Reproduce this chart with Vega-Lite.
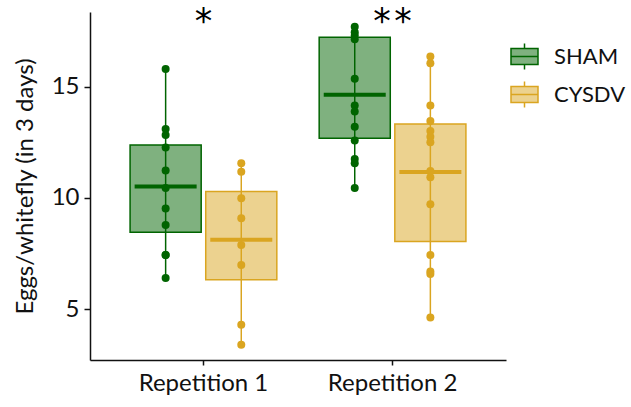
{
  "$schema": "https://vega.github.io/schema/vega-lite/v6.json",
  "width": 416,
  "height": 348,
  "autosize": {"type": "none"},
  "padding": {"left": 90, "top": 12, "right": 125, "bottom": 47},
  "background": "white",
  "config": {
    "view": {"stroke": null},
    "font": "Lato",
    "axis": {"grid": false, "domainColor": "#111", "domainWidth": 1.5, "tickColor": "#111", "tickWidth": 1.5, "labelColor": "#111", "labelFont": "Lato", "titleFont": "Lato", "titleFontWeight": "normal", "titleColor": "#111"}
  },
  "datasets": {
    "pts": [
      {"rep": "Repetition 1", "group": "SHAM", "eggs": 15.79},
      {"rep": "Repetition 1", "group": "SHAM", "eggs": 13.09},
      {"rep": "Repetition 1", "group": "SHAM", "eggs": 12.83},
      {"rep": "Repetition 1", "group": "SHAM", "eggs": 12.26},
      {"rep": "Repetition 1", "group": "SHAM", "eggs": 11.23},
      {"rep": "Repetition 1", "group": "SHAM", "eggs": 10.44},
      {"rep": "Repetition 1", "group": "SHAM", "eggs": 9.52},
      {"rep": "Repetition 1", "group": "SHAM", "eggs": 8.78},
      {"rep": "Repetition 1", "group": "SHAM", "eggs": 7.44},
      {"rep": "Repetition 1", "group": "SHAM", "eggs": 7.44},
      {"rep": "Repetition 1", "group": "SHAM", "eggs": 6.40},
      {"rep": "Repetition 1", "group": "CYSDV", "eggs": 11.56},
      {"rep": "Repetition 1", "group": "CYSDV", "eggs": 11.18},
      {"rep": "Repetition 1", "group": "CYSDV", "eggs": 9.99},
      {"rep": "Repetition 1", "group": "CYSDV", "eggs": 9.09},
      {"rep": "Repetition 1", "group": "CYSDV", "eggs": 7.89},
      {"rep": "Repetition 1", "group": "CYSDV", "eggs": 6.99},
      {"rep": "Repetition 1", "group": "CYSDV", "eggs": 4.30},
      {"rep": "Repetition 1", "group": "CYSDV", "eggs": 3.40},
      {"rep": "Repetition 2", "group": "SHAM", "eggs": 17.69},
      {"rep": "Repetition 2", "group": "SHAM", "eggs": 17.44},
      {"rep": "Repetition 2", "group": "SHAM", "eggs": 17.29},
      {"rep": "Repetition 2", "group": "SHAM", "eggs": 17.13},
      {"rep": "Repetition 2", "group": "SHAM", "eggs": 15.35},
      {"rep": "Repetition 2", "group": "SHAM", "eggs": 14.15},
      {"rep": "Repetition 2", "group": "SHAM", "eggs": 13.88},
      {"rep": "Repetition 2", "group": "SHAM", "eggs": 13.20},
      {"rep": "Repetition 2", "group": "SHAM", "eggs": 12.58},
      {"rep": "Repetition 2", "group": "SHAM", "eggs": 11.75},
      {"rep": "Repetition 2", "group": "SHAM", "eggs": 11.56},
      {"rep": "Repetition 2", "group": "SHAM", "eggs": 10.44},
      {"rep": "Repetition 2", "group": "CYSDV", "eggs": 16.35},
      {"rep": "Repetition 2", "group": "CYSDV", "eggs": 16.05},
      {"rep": "Repetition 2", "group": "CYSDV", "eggs": 14.15},
      {"rep": "Repetition 2", "group": "CYSDV", "eggs": 13.46},
      {"rep": "Repetition 2", "group": "CYSDV", "eggs": 13.01},
      {"rep": "Repetition 2", "group": "CYSDV", "eggs": 12.75},
      {"rep": "Repetition 2", "group": "CYSDV", "eggs": 12.50},
      {"rep": "Repetition 2", "group": "CYSDV", "eggs": 11.21},
      {"rep": "Repetition 2", "group": "CYSDV", "eggs": 10.93},
      {"rep": "Repetition 2", "group": "CYSDV", "eggs": 9.72},
      {"rep": "Repetition 2", "group": "CYSDV", "eggs": 7.44},
      {"rep": "Repetition 2", "group": "CYSDV", "eggs": 6.69},
      {"rep": "Repetition 2", "group": "CYSDV", "eggs": 6.58},
      {"rep": "Repetition 2", "group": "CYSDV", "eggs": 4.63}
    ],
    "stats": [
      {"rep": "Repetition 1", "group": "SHAM", "lo": 6.40, "q1": 8.46, "med": 10.51, "q3": 12.38, "hi": 15.79},
      {"rep": "Repetition 1", "group": "CYSDV", "lo": 3.45, "q1": 6.32, "med": 8.12, "q3": 10.29, "hi": 11.56},
      {"rep": "Repetition 2", "group": "SHAM", "lo": 10.44, "q1": 12.68, "med": 14.63, "q3": 17.22, "hi": 17.69},
      {"rep": "Repetition 2", "group": "CYSDV", "lo": 4.67, "q1": 8.04, "med": 11.16, "q3": 13.32, "hi": 16.35}
    ],
    "annot": [
      {"rep": "Repetition 1", "label": "*", "y": 17.4},
      {"rep": "Repetition 2", "label": "*\u200a*", "y": 17.4}
    ]
  },
  "encoding": {
    "x": {"field": "rep", "type": "nominal", "scale": {"paddingOuter": 0.1, "paddingInner": 0}, "axis": {"title": null, "labelAngle": 0, "labelFontSize": 24, "tickSize": 5, "labelPadding": 6}}
  },
  "layer": [
    {
      "data": {"name": "stats"},
      "mark": {"type": "rule", "strokeWidth": 1.5},
      "encoding": {
        "xOffset": {"field": "group", "type": "nominal", "sort": ["SHAM", "CYSDV"], "scale": {"paddingInner": 0.06, "paddingOuter": 0.28}},
        "y": {"field": "lo", "type": "quantitative", "scale": {"domain": [2.72, 18.35], "nice": false, "zero": false}, "axis": {"values": [5, 10, 15], "title": "Eggs/whitefly (in 3 days)", "titleFontSize": 24, "labelFontSize": 24, "tickSize": 6, "labelPadding": 5, "titlePadding": 14}},
        "y2": {"field": "hi"},
        "color": {"field": "group", "type": "nominal", "scale": {"domain": ["SHAM", "CYSDV"], "range": ["#006400", "#DAA520"]}, "legend": {
          "title": null, "orient": "none", "legendX": 420, "legendY": 30,
          "symbolType": "M-1,-0.59H1V0.59H-1ZM0,-0.96V-0.59M0,0.59V0.96M-1,0H1",
          "symbolSize": 729, "symbolStrokeWidth": 1.5, "rowPadding": 5,
          "labelFontSize": 22, "labelFont": "Lato", "labelColor": "#111", "labelOffset": 15,
          "encode": {"symbols": {"update": {"fillOpacity": {"value": 0.5}, "stroke": {"scale": "color", "field": "value"}, "strokeWidth": {"value": 1.5}}}}
        }}
      }
    },
    {
      "data": {"name": "stats"},
      "mark": {"type": "bar", "fillOpacity": 0.5, "strokeWidth": 1.5},
      "encoding": {
        "xOffset": {"field": "group", "type": "nominal", "sort": ["SHAM", "CYSDV"]},
        "y": {"field": "q1", "type": "quantitative"},
        "y2": {"field": "q3"},
        "color": {"field": "group", "type": "nominal"},
        "stroke": {"field": "group", "type": "nominal", "scale": {"domain": ["SHAM", "CYSDV"], "range": ["#006400", "#DAA520"]}, "legend": null}
      }
    },
    {
      "data": {"name": "stats"},
      "mark": {"type": "tick", "thickness": 4, "size": 62, "opacity": 1},
      "encoding": {
        "xOffset": {"field": "group", "type": "nominal", "sort": ["SHAM", "CYSDV"]},
        "y": {"field": "med", "type": "quantitative"},
        "color": {"field": "group", "type": "nominal"}
      }
    },
    {
      "data": {"name": "pts"},
      "mark": {"type": "circle", "size": 64, "opacity": 1},
      "encoding": {
        "xOffset": {"field": "group", "type": "nominal", "sort": ["SHAM", "CYSDV"]},
        "y": {"field": "eggs", "type": "quantitative"},
        "color": {"field": "group", "type": "nominal"}
      }
    },
    {
      "data": {"name": "annot"},
      "mark": {"type": "text", "fontSize": 35, "baseline": "alphabetic", "align": "center", "color": "black", "font": "DejaVu Sans"},
      "encoding": {
        "y": {"field": "y", "type": "quantitative"},
        "text": {"field": "label"}
      }
    }
  ]
}
